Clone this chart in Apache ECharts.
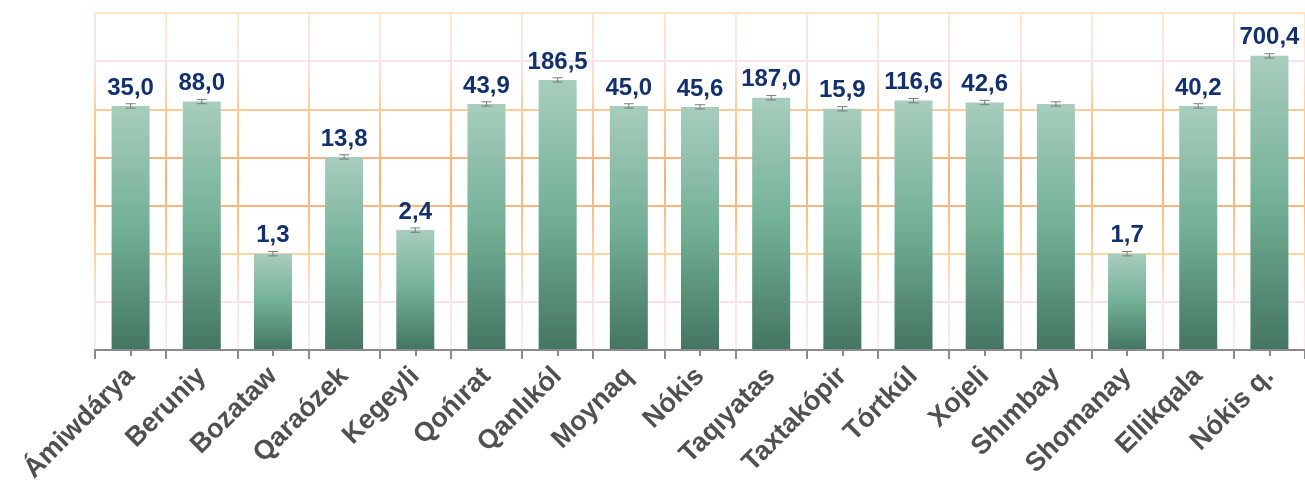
<!DOCTYPE html>
<html>
<head>
<meta charset="utf-8">
<script src="https://cdn.jsdelivr.net/npm/echarts@6/dist/echarts.min.js"></script>
<style>
  html, body { margin: 0; padding: 0; background: #fff; }
  #chart { width: 1305px; height: 490px; }
</style>
</head>
<body>
<div id="chart"></div>
<script>
const categories = ['Ámiwdárya', 'Beruniy', 'Bozataw', 'Qaraózek', 'Kegeyli', 'Qońırat', 'Qanlıkól', 'Moynaq', 'Nókis',
  'Taqıyatas', 'Taxtakópir', 'Tórtkúl', 'Xojeli', 'Shımbay', 'Shomanay', 'Ellikqala', 'Nókis q.'];
// bar heights as drawn (in grid steps), labels are the printed values
const barHeights = [5.07, 5.16, 2.00, 4.01, 2.49, 5.11, 5.61, 5.07, 5.05, 5.24, 5.01, 5.18, 5.14, 5.11, 2.00, 5.07, 6.11];
const valueLabels = ['35,0', '88,0', '1,3', '13,8', '2,4', '43,9', '186,5', '45,0', '45,6', '187,0', '15,9', '116,6', '42,6', '', '1,7', '40,2', '700,4'];
const errors = [0.045, 0.045, 0.045, 0.045, 0.045, 0.045, 0.045, 0.045, 0.045, 0.045, 0.045, 0.045, 0.045, 0.045, 0.045, 0.045, 0.045];

const chart = echarts.init(document.getElementById('chart'), null, { renderer: 'canvas' });

const font = '"Liberation Sans", Arial, sans-serif';

const vGridColor = {
  type: 'linear', x: 0, y: 13, x2: 0, y2: 350, global: true,
  colorStops: [
    { offset: 0, color: '#fde7c8' },
    { offset: 0.14, color: '#fde3ea' },
    { offset: 0.29, color: '#fdcc95' },
    { offset: 0.5, color: '#fcae7a' },
    { offset: 0.72, color: '#fdd3a0' },
    { offset: 0.86, color: '#fde2e8' },
    { offset: 1, color: '#fdeaee' }
  ]
};

var option = {
  animation: false,
  grid: { left: 95, top: 13, width: 1214, height: 337, containLabel: false },
  xAxis: [{
    type: 'category',
    data: categories,
    boundaryGap: true,
    axisLine: { show: true, lineStyle: { color: '#8a8a8a', width: 2 } },
    axisTick: { show: true, length: 9, lineStyle: { color: '#8a8a8a', width: 2 } },
    splitLine: { show: true, lineStyle: { color: vGridColor, width: 2 } },
    axisLabel: {
      interval: 0,
      rotate: 45,
      margin: 22,
      fontFamily: font,
      fontWeight: 'bold',
      fontSize: 27,
      color: '#505050'
    },
    z: 3
  }, {
    type: 'category',
    data: categories,
    position: 'bottom',
    boundaryGap: true,
    axisLine: { show: false },
    axisTick: { show: true, alignWithLabel: true, length: 6, lineStyle: { color: '#8a8a8a', width: 2 } },
    axisLabel: { show: false },
    splitLine: { show: false },
    z: 3
  }],
  yAxis: {
    type: 'value',
    min: 0,
    max: 7,
    interval: 1,
    axisLine: { show: false },
    axisTick: { show: false },
    axisLabel: { show: false },
    splitLine: {
      show: true,
      lineStyle: {
        width: 2,
        color: ['#fde3e9', '#fde3e9', '#fdd5a2', '#fcb680', '#fcb27c', '#fdcc96', '#fde3e9', '#fde5c5']
      }
    }
  },
  series: [{
    name: 'bars',
    type: 'bar',
    data: barHeights,
    barWidth: 38,
    itemStyle: {
      color: {
        type: 'linear', x: 0, y: 0, x2: 0, y2: 1,
        colorStops: [
          { offset: 0, color: '#a8cdbd' },
          { offset: 0.5, color: '#72b096' },
          { offset: 1, color: '#447560' }
        ]
      }
    },
    label: {
      show: true,
      position: 'top',
      distance: 6,
      fontFamily: font,
      fontWeight: 'bold',
      fontSize: 24,
      color: '#12306e',
      formatter: function (p) { return valueLabels[p.dataIndex]; }
    }
  }, {
    name: 'errors',
    type: 'custom',
    data: categories.map(function (c, i) { return [i, barHeights[i], errors[i]]; }),
    renderItem: function (params, api) {
      var x = api.value(0), y = api.value(1), e = api.value(2);
      var hi = api.coord([x, y + e]);
      var lo = api.coord([x, y - e]);
      var w = 5;
      var st = { stroke: '#7a7a7a', lineWidth: 1 };
      return {
        type: 'group',
        children: [
          { type: 'line', shape: { x1: hi[0], y1: hi[1], x2: lo[0], y2: lo[1] }, style: st },
          { type: 'line', shape: { x1: hi[0] - w, y1: hi[1], x2: hi[0] + w, y2: hi[1] }, style: st },
          { type: 'line', shape: { x1: lo[0] - w, y1: lo[1], x2: lo[0] + w, y2: lo[1] }, style: st }
        ]
      };
    },
    z: 4
  }]
};

chart.setOption(option);
</script>
</body>
</html>
